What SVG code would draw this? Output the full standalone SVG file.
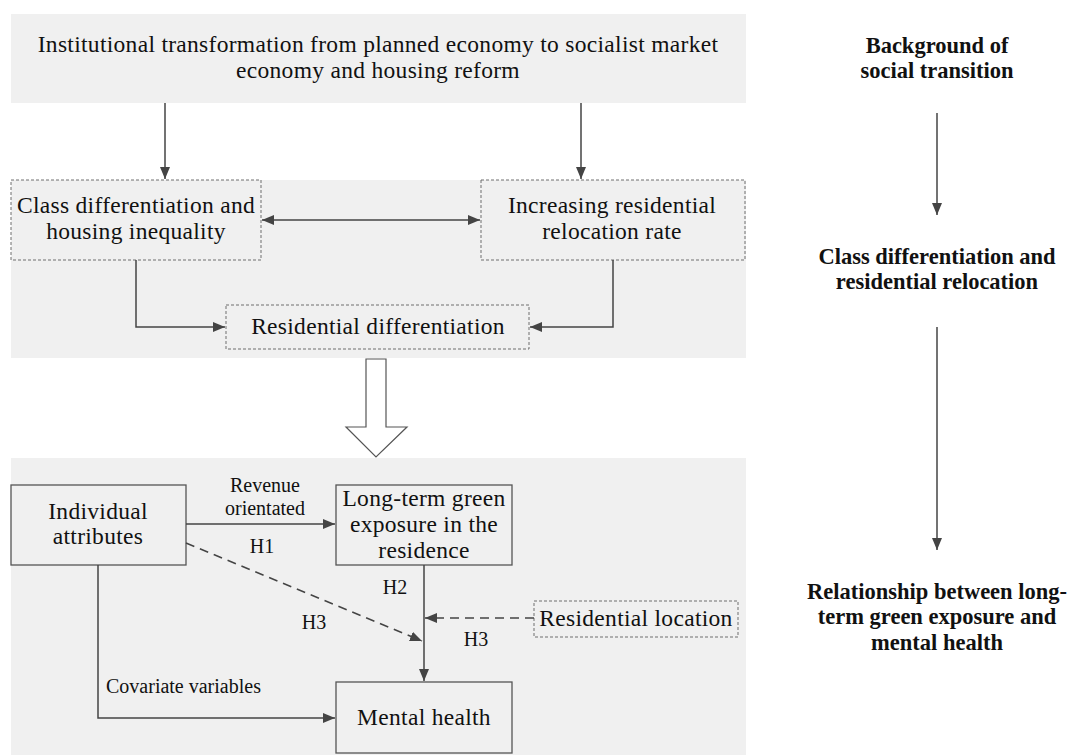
<svg xmlns="http://www.w3.org/2000/svg" width="1081" height="756" viewBox="0 0 1081 756">
<style>
.panel{fill:#f0f0f0;stroke:none}
.dbox{fill:#f0f0f0;stroke:#6e6e6e;stroke-width:1;stroke-dasharray:3,2}
.sbox{fill:#f0f0f0;stroke:#555;stroke-width:1.3}
.t{font-family:"Liberation Serif","Times New Roman",serif;font-size:23.5px;letter-spacing:0.3px;fill:#111;text-anchor:middle}
.s{font-family:"Liberation Serif","Times New Roman",serif;font-size:20px;fill:#111;text-anchor:middle}
.b{font-family:"Liberation Serif","Times New Roman",serif;font-size:22.5px;font-weight:bold;fill:#111;text-anchor:middle}
.ln{fill:none;stroke:#444;stroke-width:1.5}
.dl{fill:none;stroke:#444;stroke-width:1.5;stroke-dasharray:9,6}
</style>
<defs>
<marker id="ah" viewBox="0 0 12 10" refX="12" refY="5" markerWidth="12" markerHeight="10" markerUnits="userSpaceOnUse" orient="auto-start-reverse">
<path d="M0,0 L12,5 L0,10 Z" fill="#444"/>
</marker>
</defs>
<rect width="1081" height="756" fill="#fff"/>
<g id="panels">
<rect class="panel" x="11" y="14" width="735" height="89"/>
<rect class="panel" x="11" y="180" width="735" height="178"/>
<rect class="panel" x="11" y="458" width="735" height="297"/>
</g>
<g id="top">
<text class="t" x="378" y="52">Institutional transformation from planned economy to socialist market</text>
<text class="t" x="378" y="78">economy and housing reform</text>
</g>
<g id="class-diff">
<rect class="dbox" x="11" y="180" width="250" height="80"/>
<text class="t" x="136" y="213">Class differentiation and</text>
<text class="t" x="136" y="239">housing inequality</text>
</g>
<g id="relocation">
<rect class="dbox" x="481" y="180" width="264" height="80"/>
<text class="t" x="612" y="213">Increasing residential</text>
<text class="t" x="612" y="239">relocation rate</text>
</g>
<g id="res-diff">
<rect class="dbox" x="226" y="305" width="303" height="44"/>
<text class="t" x="378" y="334">Residential differentiation</text>
</g>
<g id="big-arrow">
<path d="M366,359 L386,359 L386,427 L407,427 L376,457 L346,427 L366,427 Z" fill="#fff" stroke="#555" stroke-width="1.2"/>
</g>
<g id="individual">
<rect class="sbox" x="11" y="485" width="175" height="80"/>
<text class="t" x="98" y="519">Individual</text>
<text class="t" x="98" y="544">attributes</text>
</g>
<g id="green">
<rect class="sbox" x="336" y="485" width="176" height="80"/>
<text class="t" x="424" y="506">Long-term green</text>
<text class="t" x="424" y="532">exposure in the</text>
<text class="t" x="424" y="558">residence</text>
</g>
<g id="location">
<rect class="dbox" x="534" y="601" width="204" height="36"/>
<text class="t" x="636" y="626">Residential location</text>
</g>
<g id="mental">
<rect class="sbox" x="336" y="682" width="176" height="71"/>
<text class="t" x="424" y="725">Mental health</text>
</g>
<g id="right-column">
<text class="b" x="937" y="53">Background of</text>
<text class="b" x="937" y="78">social transition</text>
<text class="b" x="937" y="264">Class differentiation and</text>
<text class="b" x="937" y="289">residential relocation</text>
<text class="b" x="937" y="599">Relationship between long-</text>
<text class="b" x="937" y="624">term green exposure and</text>
<text class="b" x="937" y="650">mental health</text>
</g>
<g id="connectors">
<line class="ln" x1="165" y1="103" x2="165" y2="179" marker-end="url(#ah)"/>
<line class="ln" x1="581" y1="103" x2="581" y2="179" marker-end="url(#ah)"/>
<line class="ln" x1="262" y1="220" x2="480" y2="220" marker-start="url(#ah)" marker-end="url(#ah)"/>
<polyline class="ln" points="136,260 136,327 225,327" marker-end="url(#ah)"/>
<polyline class="ln" points="613,260 613,327 530,327" marker-end="url(#ah)"/>
<line class="ln" x1="186" y1="524" x2="335" y2="524" marker-end="url(#ah)"/>
<line class="dl" x1="186" y1="543" x2="422" y2="641" marker-end="url(#ah)"/>
<line class="ln" x1="424" y1="565" x2="424" y2="681" marker-end="url(#ah)"/>
<line class="dl" x1="534" y1="618" x2="425" y2="618" marker-end="url(#ah)"/>
<polyline class="ln" points="98,565 98,718 335,718" marker-end="url(#ah)"/>
<line class="ln" x1="937" y1="113" x2="937" y2="215" marker-end="url(#ah)"/>
<line class="ln" x1="937" y1="327" x2="937" y2="550" marker-end="url(#ah)"/>
</g>
<g id="labels">
<text class="s" x="265" y="492">Revenue</text>
<text class="s" x="265" y="515">orientated</text>
<text class="s" x="262" y="553">H1</text>
<text class="s" x="395" y="594">H2</text>
<text class="s" x="314" y="629">H3</text>
<text class="s" x="476" y="646">H3</text>
<text class="s" x="106" y="693" style="text-anchor:start">Covariate variables</text>
</g>
</svg>
